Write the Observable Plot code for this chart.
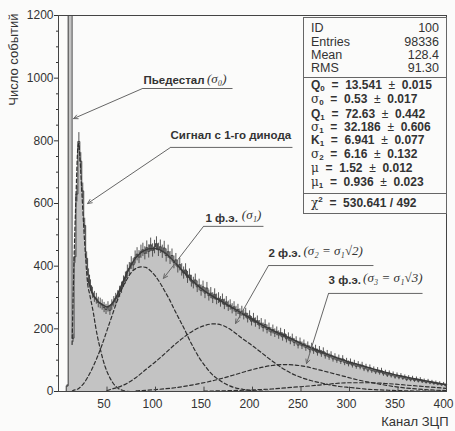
<!DOCTYPE html>
<html><head><meta charset="utf-8">
<script src="https://cdn.jsdelivr.net/npm/d3@7"></script>
<script src="https://cdn.jsdelivr.net/npm/@observablehq/plot@0.6"></script>
<style>
body{margin:0;background:#fbfbfa;}
#wrap{position:relative;width:455px;height:431px;font-family:"Liberation Sans",Arial,sans-serif;color:#333;}
#stats{position:absolute;left:303px;top:17px;width:142px;height:195px;border:1px solid #666;background:#fbfbfa;}
.row{position:absolute;left:7px;right:7px;height:13px;line-height:13px;font-size:12.5px;white-space:nowrap;}
.row .v{position:absolute;right:0;top:0;}
.row sub{font-size:8px;vertical-align:-2px;line-height:0;}
.p{font-weight:bold;font-size:12px;}
.g{font-family:"DejaVu Serif",serif;font-weight:normal;font-size:12px;line-height:0;}
.hr{position:absolute;left:0;right:0;height:0;border-top:1px solid #666;}
</style></head><body><div id="wrap"></div><script>
// ---------- data ----------
const binWidth = 2; // channels per bin, bins start at channel 0
const counts = [
  0,0,0,0,18,1400,1400,170,430,630,
  798,735,640,530,425,372,338,315,302,296,
  284,281,276,268,262,270,259,276,286,296,
  304,318,331,350,362,384,392,410,404,428,
  438,429,446,452,441,459,447,468,450,461,
  472,452,462,446,458,434,446,426,434,412,
  420,398,405,388,378,388,364,372,352,346,
  356,334,340,322,334,314,330,306,314,298,
  310,294,298,286,294,278,286,272,276,264,
  270,256,262,248,256,244,250,234,242,224,
  234,220,226,212,218,204,214,198,204,190,
  198,186,192,180,188,174,184,168,174,162,
  170,156,162,148,158,146,152,140,146,134,
  142,130,136,124,132,120,128,114,120,110,
  116,104,110,100,106,96,104,92,96,88,
  94,84,90,80,86,78,84,72,78,68,
  76,66,70,62,68,60,66,56,60,52,
  58,50,55,46,52,44,50,42,46,38,
  44,37,42,35,40,33,38,31,34,29,
  33,27,30,25,28,23,26,21,24,19
];
// total fit (solid line) [channel, events]
const fitCurve = [[30,360],[35,312],[40,290],[45,278],[50,270],[55,280],[60,305],[65,340],[70,375],[75,405],[80,428],[85,443],[90,452],[95,456],[100,456],[110,442],[120,412],[130,378],[140,348],[150,322],[160,302],[170,284],[180,266],[190,248],[200,230],[210,212],[220,196],[230,182],[240,168],[250,153],[260,140],[270,127],[280,115],[290,104],[300,94],[310,85],[320,76],[330,67],[340,59],[350,51],[360,45],[370,39],[380,33],[390,27],[400,22]];
// fit components (dashed)
const dynodeComp = [[14,150],[16,420],[18,620],[20,780],[21,792],[22,750],[24,640],[26,525],[28,425],[30,345],[32,312],[34,282],[36,250],[38,212],[40,178],[42,150],[44,124],[46,100],[48,80],[50,64],[52,50],[54,38],[56,28],[58,20],[60,14],[62,9],[64,6],[66,4],[68,2],[70,1],[75,0]];
const pe1Comp = [[14,0],[15,3],[20,8],[25,22],[30,45],[35,75],[40,110],[45,150],[50,195],[55,240],[60,285],[65,325],[70,355],[75,380],[80,393],[85,398],[90,396],[95,385],[100,368],[105,345],[110,318],[115,290],[120,258],[125,228],[130,198],[135,165],[140,135],[145,108],[150,86],[155,66],[160,50],[165,38],[170,28],[175,20],[180,14],[190,7],[200,3],[210,1],[220,0]];
const pe2Comp = [[50,3],[55,8],[60,12],[70,25],[80,45],[90,70],[100,95],[110,122],[120,150],[130,175],[140,196],[150,210],[160,216],[170,210],[180,192],[190,168],[200,146],[210,122],[220,98],[230,76],[240,58],[250,45],[260,35],[270,28],[280,21],[290,16],[300,13],[320,7],[340,4],[360,2],[380,1],[400,0]];
const pe3Comp = [[80,2],[100,6],[120,12],[140,22],[160,35],[180,52],[200,70],[220,83],[235,86],[250,82],[270,68],[290,52],[310,36],[330,24],[350,14],[370,8],[390,4],[400,3]];
const pe4Comp = [[150,1],[180,3],[200,5],[220,8],[240,13],[260,18],[280,24],[300,28],[320,28],[340,25],[360,20],[380,15],[400,10]];
const xTicks = [50,100,150,200,250,300,350,400];
const yTicks = [0,200,400,600,800,1000,1200];
const yMinor = [50,100,150,250,300,350,450,500,550,650,700,750,850,900,950,1050,1100,1150];
const statsTop = [["ID","100"],["Entries","98336"],["Mean","128.4"],["RMS","91.30"]];
const paramNames = ["Q<sub>0</sub>","<span class='g'>σ</span><sub>0</sub>","Q<sub>1</sub>","<span class='g'>σ</span><sub>1</sub>","K<sub>1</sub>","<span class='g'>σ</span><sub>2</sub>","<span class='g'>μ</span>","<span class='g'>μ</span><sub>1</sub>"];
const paramValues = ["13.541","0.53","72.63","32.186","6.941","6.16","1.52","0.936"];
const paramErrors = ["0.015","0.017","0.442","0.606","0.077","0.132","0.012","0.023"];
const chi2Text = "530.641 / 492";
const xTitle = "Канал ЗЦП";
const yTitle = "Число событий";
// annotation texts and their anchor points (channel / events units)
const annotations = [
  {text:"Пьедестал", sig:"(σ₀)", lx:87.6, ly:982, sx:153, sy:985, ux1:86.6, ux2:179.4, uy:967, tx:15.5, ty:871},
  {text:"Сигнал с 1-го динода", sig:"", lx:115.5, ly:806, sx:0, sy:0, ux1:115.5, ux2:241.2, uy:779, tx:30, ty:600},
  {text:"1 ф.э.", sig:"(σ₁)", lx:151.5, ly:540, sx:189, sy:552, ux1:149.5, ux2:211.3, uy:527, tx:108.2, ty:361},
  {text:"2 ф.э.", sig:"(σ₂ = σ₁√2)", lx:216.5, ly:428, sx:252.5, sy:436, ux1:216.5, ux2:324.7, uy:402, tx:182.5, ty:217},
  {text:"3 ф.э.", sig:"(σ₃ = σ₁√3)", lx:278.4, ly:342, sx:314, sy:350, ux1:278.4, ux2:375.3, uy:313, tx:255.7, ty:89}
];

// ---------- build ----------
const bins = counts.map((c, i) => ({x1: i * binWidth, x2: (i + 1) * binWidth, xm: i * binWidth + binWidth / 2, c}));
const steps = bins.map(b => ({x: b.x1, c: b.c})).concat([{x: bins[bins.length - 1].x2, c: bins[bins.length - 1].c}]);
const P = d => d[0], V = d => d[1];
const dashed = (arr) => Plot.line(arr, {x: P, y: V, curve: "monotone-x", stroke: "#2f2f2f", strokeWidth: 1.2, strokeDasharray: "3.5,2.5", clip: true});

const chart = Plot.plot({
  width: 455, height: 431,
  marginLeft: 58, marginRight: 9, marginTop: 15, marginBottom: 40,
  style: {background: "transparent", fontFamily: "Liberation Sans, Arial, sans-serif", fontSize: "12px", color: "#333"},
  x: {domain: [0, 400]},
  y: {domain: [0, 1200]},
  marks: [
    Plot.areaY(steps, {x: "x", y: "c", curve: "step-after", fill: "#c3c3c3", clip: true}),
    Plot.ruleX(bins.filter(d => d.c > 0 && d.c < 1200), {x: "xm", y1: d => d.c - Math.sqrt(d.c), y2: d => d.c + Math.sqrt(d.c), stroke: "#444", strokeWidth: 0.9, clip: true}),
    Plot.line(steps, {x: "x", y: "c", curve: "step-after", stroke: "#444", strokeWidth: 1, clip: true}),
    dashed(dynodeComp), dashed(pe1Comp), dashed(pe2Comp), dashed(pe3Comp), dashed(pe4Comp),
    Plot.line(fitCurve, {x: P, y: V, curve: "monotone-x", stroke: "#3a3a3a", strokeWidth: 1.4}),
    Plot.ruleX(xTicks, {x: d => d, y1: 0, y2: 14, stroke: "#444"}),
    Plot.frame({stroke: "#444"}),
    Plot.axisY({ticks: yTicks, tickSize: 4, tickPadding: 1, fontSize: 12, tickFormat: d => String(d), label: null}),
    Plot.axisY({ticks: yMinor, tickSize: 2, tickFormat: () => "", label: null}),
    Plot.axisX({ticks: xTicks, tickSize: 0, tickPadding: 8, fontSize: 12, dx: -3, tickFormat: d => String(d), label: null}),
    // annotations
    Plot.link(annotations, {x1: "ux1", x2: "ux2", y1: "uy", y2: "uy", stroke: "#666", strokeWidth: 1}),
    Plot.arrow(annotations, {x1: "ux1", y1: "uy", x2: "tx", y2: "ty", stroke: "#666", strokeWidth: 1, headLength: 7, headAngle: 50}),
    Plot.text(annotations, {x: "lx", y: "ly", text: "text", textAnchor: "start", lineAnchor: "bottom", fontWeight: "bold", fontSize: 11.5, fill: "#333"}),
    Plot.text(annotations.filter(d => d.sig), {x: "sx", y: "sy", text: "sig", textAnchor: "start", lineAnchor: "bottom", fontFamily: "Liberation Serif, serif", fontStyle: "italic", fontSize: 13, fill: "#333"}),
    // titles
    Plot.text([yTitle], {frameAnchor: "top-left", text: d => d, rotate: -90, textAnchor: "end", lineAnchor: "middle", dx: -45, dy: -2, fontSize: 13, fill: "#333"}),
    Plot.text([xTitle], {frameAnchor: "bottom-right", text: d => d, textAnchor: "end", lineAnchor: "middle", dx: 2, dy: 30, fontSize: 13, fill: "#333"})
  ]
});

const wrap = document.getElementById("wrap");
wrap.appendChild(chart);

// stats box
const box = document.createElement("div");
box.id = "stats";
let html = "";
const topRows = [10, 24, 37, 50];
statsTop.forEach((r, i) => {
  html += `<div class="row" style="top:${topRows[i] - 6.5}px">${r[0]}<span class="v">${r[1]}</span></div>`;
});
html += `<div class="hr" style="top:59px"></div>`;
const pRows = [67, 81, 96, 109, 122, 136, 150, 164];
paramNames.forEach((n, i) => {
  html += `<div class="row p" style="top:${pRows[i] - 6.5}px">${n} &nbsp;= &nbsp;${paramValues[i]} &nbsp;<span style="font-weight:normal">±</span>&nbsp; ${paramErrors[i]}</div>`;
});
html += `<div class="hr" style="top:175px"></div>`;
html += `<div class="row p" style="top:${185 - 6.5}px"><span class="g">χ</span><sup style="font-size:8px;line-height:0">2</sup> &nbsp;= &nbsp;${chi2Text}</div>`;
box.innerHTML = html;
wrap.appendChild(box);
</script></body></html>
